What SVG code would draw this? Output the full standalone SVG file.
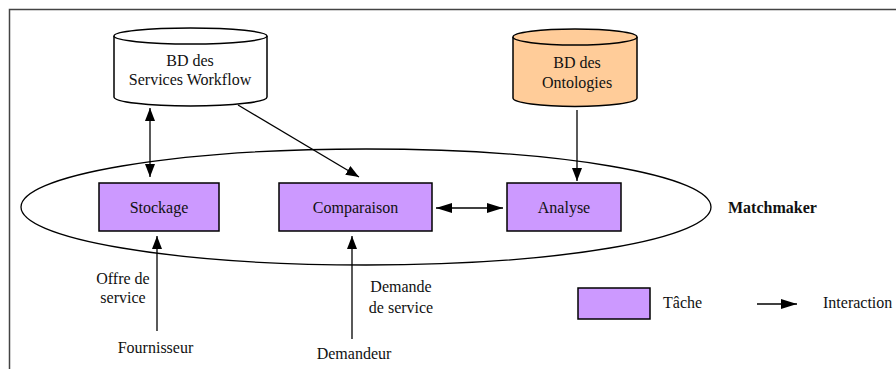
<svg xmlns="http://www.w3.org/2000/svg" width="896" height="369" viewBox="0 0 896 369">
  <defs>
    <marker id="arrow" viewBox="0 0 16 10" refX="16" refY="5" markerWidth="16" markerHeight="10" markerUnits="userSpaceOnUse" orient="auto-start-reverse">
      <path d="M0,0 L16,5 L0,10 Z" fill="#000"/>
    </marker>
    <marker id="arrowS" viewBox="0 0 13 10" refX="13" refY="5" markerWidth="13" markerHeight="10" markerUnits="userSpaceOnUse" orient="auto-start-reverse">
      <path d="M0,0 L13,5 L0,10 Z" fill="#000"/>
    </marker>
  </defs>
  <style>
    text { font-family: "Liberation Serif", "Times New Roman", serif; font-size: 16px; fill: #111; }
    .mid { text-anchor: middle; }
    .task { fill: #CC99FF; stroke: #000; stroke-width: 1.5; }
    .db { stroke: #000; stroke-width: 1.5; }
    .edge { stroke: #000; stroke-width: 1.3; fill: none; }
  </style>
  <rect width="896" height="369" fill="#fff"/>
  <!-- outer frame -->
  <rect x="9.5" y="9.5" width="900" height="400" fill="none" stroke="#444" stroke-width="1.5"/>

  <!-- Matchmaker boundary -->
  <g id="matchmaker">
    <ellipse cx="366" cy="207" rx="345" ry="58" fill="none" stroke="#000" stroke-width="1.3"/>
    <text x="728" y="213" font-weight="bold">Matchmaker</text>
  </g>

  <g id="db-workflow">
    <path class="db" fill="#fff" d="M114,36 L114,97 A76.5,9 0 0 0 267,97 L267,36"/>
    <ellipse class="db" cx="190.5" cy="36" rx="76.5" ry="8" fill="#fff"/>
    <text class="mid" x="190" y="66">BD des</text>
    <text class="mid" x="190" y="85">Services Workflow</text>
  </g>

  <g id="db-ontologies">
    <path class="db" fill="#FFCC99" d="M513,37 L513,98 A62,8.5 0 0 0 637,98 L637,37"/>
    <ellipse class="db" cx="575" cy="37" rx="62" ry="8" fill="#FFCC99"/>
    <text class="mid" x="577" y="68">BD des</text>
    <text class="mid" x="577" y="88">Ontologies</text>
  </g>

  <g id="stockage">
    <rect class="task" x="99" y="183" width="120" height="48"/>
    <text class="mid" x="159" y="213">Stockage</text>
  </g>

  <g id="comparaison">
    <rect class="task" x="279" y="183" width="153" height="48"/>
    <text class="mid" x="355.5" y="213">Comparaison</text>
  </g>

  <g id="analyse">
    <rect class="task" x="507" y="183" width="114" height="48"/>
    <text class="mid" x="564" y="213">Analyse</text>
  </g>

  <g id="fournisseur">
    <text class="mid" x="155.5" y="353">Fournisseur</text>
  </g>

  <g id="demandeur">
    <text class="mid" x="354" y="359">Demandeur</text>
  </g>

  <!-- connectors -->
  <g id="connectors">
    <line class="edge" x1="150" y1="108" x2="150" y2="177" marker-start="url(#arrowS)" marker-end="url(#arrowS)"/>
    <line class="edge" x1="238" y1="105" x2="359" y2="177" marker-end="url(#arrowS)"/>
    <line class="edge" x1="577" y1="110" x2="577" y2="181" marker-end="url(#arrowS)"/>
    <line class="edge" x1="436" y1="208" x2="503" y2="208" marker-start="url(#arrow)" marker-end="url(#arrow)"/>
    <line class="edge" x1="157" y1="331" x2="157" y2="236" marker-end="url(#arrowS)"/>
    <line class="edge" x1="352" y1="339" x2="352" y2="236" marker-end="url(#arrowS)"/>
    <text class="mid" x="123" y="284">Offre de</text>
    <text class="mid" x="123" y="303">service</text>
    <text class="mid" x="401" y="292">Demande</text>
    <text class="mid" x="401" y="313">de service</text>
  </g>

  <!-- legend -->
  <g id="legend">
    <rect class="task" x="578" y="288" width="72" height="31"/>
    <text x="663" y="308">Tâche</text>
    <line class="edge" x1="757" y1="304" x2="797" y2="304" marker-end="url(#arrow)"/>
    <text x="823" y="308">Interaction</text>
  </g>
</svg>
